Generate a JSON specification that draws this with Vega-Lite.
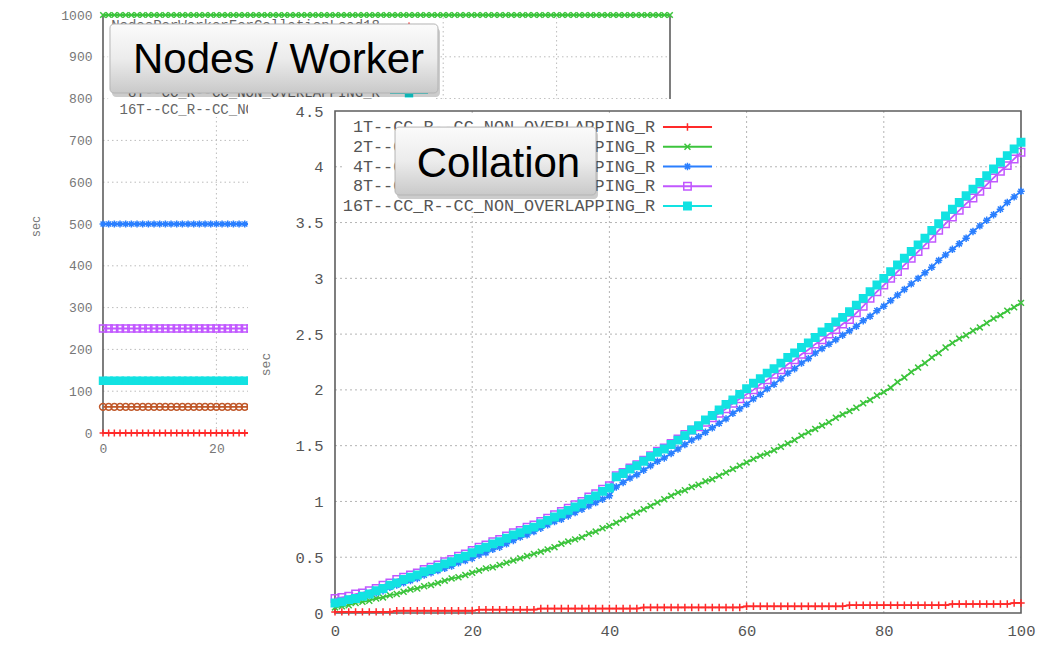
{
"$schema":"https://vega.github.io/schema/vega-lite/v6.json",
"width":1045,"height":649,"autosize":{"type":"none"},"padding":0,"background":"#ffffff",
"config":{"view":{"stroke":null}},
"datasets":{
"A":[
{"x":0,"s":"NPW","y":0},{"x":1,"s":"NPW","y":0},{"x":2,"s":"NPW","y":0},{"x":3,"s":"NPW","y":0},{"x":4,"s":"NPW","y":0},{"x":5,"s":"NPW","y":0},{"x":6,"s":"NPW","y":0},{"x":7,"s":"NPW","y":0},{"x":8,"s":"NPW","y":0},{"x":9,"s":"NPW","y":0},{"x":10,"s":"NPW","y":0},{"x":11,"s":"NPW","y":0},{"x":12,"s":"NPW","y":0},{"x":13,"s":"NPW","y":0},{"x":14,"s":"NPW","y":0},{"x":15,"s":"NPW","y":0},{"x":16,"s":"NPW","y":0},{"x":17,"s":"NPW","y":0},{"x":18,"s":"NPW","y":0},{"x":19,"s":"NPW","y":0},{"x":20,"s":"NPW","y":0},{"x":21,"s":"NPW","y":0},{"x":22,"s":"NPW","y":0},{"x":23,"s":"NPW","y":0},{"x":24,"s":"NPW","y":0},{"x":25,"s":"NPW","y":0},{"x":26,"s":"NPW","y":0},{"x":27,"s":"NPW","y":0},{"x":28,"s":"NPW","y":0},{"x":29,"s":"NPW","y":0},{"x":30,"s":"NPW","y":0},{"x":31,"s":"NPW","y":0},{"x":32,"s":"NPW","y":0},{"x":33,"s":"NPW","y":0},{"x":34,"s":"NPW","y":0},{"x":35,"s":"NPW","y":0},{"x":36,"s":"NPW","y":0},{"x":37,"s":"NPW","y":0},{"x":38,"s":"NPW","y":0},{"x":39,"s":"NPW","y":0},{"x":40,"s":"NPW","y":0},{"x":41,"s":"NPW","y":0},{"x":42,"s":"NPW","y":0},{"x":43,"s":"NPW","y":0},{"x":44,"s":"NPW","y":0},{"x":45,"s":"NPW","y":0},{"x":46,"s":"NPW","y":0},{"x":47,"s":"NPW","y":0},{"x":48,"s":"NPW","y":0},{"x":49,"s":"NPW","y":0},{"x":50,"s":"NPW","y":0},{"x":51,"s":"NPW","y":0},{"x":52,"s":"NPW","y":0},{"x":53,"s":"NPW","y":0},{"x":54,"s":"NPW","y":0},{"x":55,"s":"NPW","y":0},{"x":56,"s":"NPW","y":0},{"x":57,"s":"NPW","y":0},{"x":58,"s":"NPW","y":0},{"x":59,"s":"NPW","y":0},{"x":60,"s":"NPW","y":0},{"x":61,"s":"NPW","y":0},{"x":62,"s":"NPW","y":0},{"x":63,"s":"NPW","y":0},{"x":64,"s":"NPW","y":0},{"x":65,"s":"NPW","y":0},{"x":66,"s":"NPW","y":0},{"x":67,"s":"NPW","y":0},{"x":68,"s":"NPW","y":0},{"x":69,"s":"NPW","y":0},{"x":70,"s":"NPW","y":0},{"x":71,"s":"NPW","y":0},{"x":72,"s":"NPW","y":0},{"x":73,"s":"NPW","y":0},{"x":74,"s":"NPW","y":0},{"x":75,"s":"NPW","y":0},{"x":76,"s":"NPW","y":0},{"x":77,"s":"NPW","y":0},{"x":78,"s":"NPW","y":0},{"x":79,"s":"NPW","y":0},{"x":80,"s":"NPW","y":0},{"x":81,"s":"NPW","y":0},{"x":82,"s":"NPW","y":0},{"x":83,"s":"NPW","y":0},{"x":84,"s":"NPW","y":0},{"x":85,"s":"NPW","y":0},{"x":86,"s":"NPW","y":0},{"x":87,"s":"NPW","y":0},{"x":88,"s":"NPW","y":0},{"x":89,"s":"NPW","y":0},{"x":90,"s":"NPW","y":0},{"x":91,"s":"NPW","y":0},{"x":92,"s":"NPW","y":0},{"x":93,"s":"NPW","y":0},{"x":94,"s":"NPW","y":0},{"x":95,"s":"NPW","y":0},{"x":96,"s":"NPW","y":0},{"x":97,"s":"NPW","y":0},{"x":98,"s":"NPW","y":0},{"x":99,"s":"NPW","y":0},{"x":100,"s":"NPW","y":0},
{"x":0,"s":"1T","y":1000},{"x":1,"s":"1T","y":1000},{"x":2,"s":"1T","y":1000},{"x":3,"s":"1T","y":1000},{"x":4,"s":"1T","y":1000},{"x":5,"s":"1T","y":1000},{"x":6,"s":"1T","y":1000},{"x":7,"s":"1T","y":1000},{"x":8,"s":"1T","y":1000},{"x":9,"s":"1T","y":1000},{"x":10,"s":"1T","y":1000},{"x":11,"s":"1T","y":1000},{"x":12,"s":"1T","y":1000},{"x":13,"s":"1T","y":1000},{"x":14,"s":"1T","y":1000},{"x":15,"s":"1T","y":1000},{"x":16,"s":"1T","y":1000},{"x":17,"s":"1T","y":1000},{"x":18,"s":"1T","y":1000},{"x":19,"s":"1T","y":1000},{"x":20,"s":"1T","y":1000},{"x":21,"s":"1T","y":1000},{"x":22,"s":"1T","y":1000},{"x":23,"s":"1T","y":1000},{"x":24,"s":"1T","y":1000},{"x":25,"s":"1T","y":1000},{"x":26,"s":"1T","y":1000},{"x":27,"s":"1T","y":1000},{"x":28,"s":"1T","y":1000},{"x":29,"s":"1T","y":1000},{"x":30,"s":"1T","y":1000},{"x":31,"s":"1T","y":1000},{"x":32,"s":"1T","y":1000},{"x":33,"s":"1T","y":1000},{"x":34,"s":"1T","y":1000},{"x":35,"s":"1T","y":1000},{"x":36,"s":"1T","y":1000},{"x":37,"s":"1T","y":1000},{"x":38,"s":"1T","y":1000},{"x":39,"s":"1T","y":1000},{"x":40,"s":"1T","y":1000},{"x":41,"s":"1T","y":1000},{"x":42,"s":"1T","y":1000},{"x":43,"s":"1T","y":1000},{"x":44,"s":"1T","y":1000},{"x":45,"s":"1T","y":1000},{"x":46,"s":"1T","y":1000},{"x":47,"s":"1T","y":1000},{"x":48,"s":"1T","y":1000},{"x":49,"s":"1T","y":1000},{"x":50,"s":"1T","y":1000},{"x":51,"s":"1T","y":1000},{"x":52,"s":"1T","y":1000},{"x":53,"s":"1T","y":1000},{"x":54,"s":"1T","y":1000},{"x":55,"s":"1T","y":1000},{"x":56,"s":"1T","y":1000},{"x":57,"s":"1T","y":1000},{"x":58,"s":"1T","y":1000},{"x":59,"s":"1T","y":1000},{"x":60,"s":"1T","y":1000},{"x":61,"s":"1T","y":1000},{"x":62,"s":"1T","y":1000},{"x":63,"s":"1T","y":1000},{"x":64,"s":"1T","y":1000},{"x":65,"s":"1T","y":1000},{"x":66,"s":"1T","y":1000},{"x":67,"s":"1T","y":1000},{"x":68,"s":"1T","y":1000},{"x":69,"s":"1T","y":1000},{"x":70,"s":"1T","y":1000},{"x":71,"s":"1T","y":1000},{"x":72,"s":"1T","y":1000},{"x":73,"s":"1T","y":1000},{"x":74,"s":"1T","y":1000},{"x":75,"s":"1T","y":1000},{"x":76,"s":"1T","y":1000},{"x":77,"s":"1T","y":1000},{"x":78,"s":"1T","y":1000},{"x":79,"s":"1T","y":1000},{"x":80,"s":"1T","y":1000},{"x":81,"s":"1T","y":1000},{"x":82,"s":"1T","y":1000},{"x":83,"s":"1T","y":1000},{"x":84,"s":"1T","y":1000},{"x":85,"s":"1T","y":1000},{"x":86,"s":"1T","y":1000},{"x":87,"s":"1T","y":1000},{"x":88,"s":"1T","y":1000},{"x":89,"s":"1T","y":1000},{"x":90,"s":"1T","y":1000},{"x":91,"s":"1T","y":1000},{"x":92,"s":"1T","y":1000},{"x":93,"s":"1T","y":1000},{"x":94,"s":"1T","y":1000},{"x":95,"s":"1T","y":1000},{"x":96,"s":"1T","y":1000},{"x":97,"s":"1T","y":1000},{"x":98,"s":"1T","y":1000},{"x":99,"s":"1T","y":1000},{"x":100,"s":"1T","y":1000},
{"x":0,"s":"2T","y":500},{"x":1,"s":"2T","y":500},{"x":2,"s":"2T","y":500},{"x":3,"s":"2T","y":500},{"x":4,"s":"2T","y":500},{"x":5,"s":"2T","y":500},{"x":6,"s":"2T","y":500},{"x":7,"s":"2T","y":500},{"x":8,"s":"2T","y":500},{"x":9,"s":"2T","y":500},{"x":10,"s":"2T","y":500},{"x":11,"s":"2T","y":500},{"x":12,"s":"2T","y":500},{"x":13,"s":"2T","y":500},{"x":14,"s":"2T","y":500},{"x":15,"s":"2T","y":500},{"x":16,"s":"2T","y":500},{"x":17,"s":"2T","y":500},{"x":18,"s":"2T","y":500},{"x":19,"s":"2T","y":500},{"x":20,"s":"2T","y":500},{"x":21,"s":"2T","y":500},{"x":22,"s":"2T","y":500},{"x":23,"s":"2T","y":500},{"x":24,"s":"2T","y":500},{"x":25,"s":"2T","y":500},{"x":26,"s":"2T","y":500},{"x":27,"s":"2T","y":500},{"x":28,"s":"2T","y":500},{"x":29,"s":"2T","y":500},{"x":30,"s":"2T","y":500},{"x":31,"s":"2T","y":500},{"x":32,"s":"2T","y":500},{"x":33,"s":"2T","y":500},{"x":34,"s":"2T","y":500},{"x":35,"s":"2T","y":500},{"x":36,"s":"2T","y":500},{"x":37,"s":"2T","y":500},{"x":38,"s":"2T","y":500},{"x":39,"s":"2T","y":500},{"x":40,"s":"2T","y":500},{"x":41,"s":"2T","y":500},{"x":42,"s":"2T","y":500},{"x":43,"s":"2T","y":500},{"x":44,"s":"2T","y":500},{"x":45,"s":"2T","y":500},{"x":46,"s":"2T","y":500},{"x":47,"s":"2T","y":500},{"x":48,"s":"2T","y":500},{"x":49,"s":"2T","y":500},{"x":50,"s":"2T","y":500},{"x":51,"s":"2T","y":500},{"x":52,"s":"2T","y":500},{"x":53,"s":"2T","y":500},{"x":54,"s":"2T","y":500},{"x":55,"s":"2T","y":500},{"x":56,"s":"2T","y":500},{"x":57,"s":"2T","y":500},{"x":58,"s":"2T","y":500},{"x":59,"s":"2T","y":500},{"x":60,"s":"2T","y":500},{"x":61,"s":"2T","y":500},{"x":62,"s":"2T","y":500},{"x":63,"s":"2T","y":500},{"x":64,"s":"2T","y":500},{"x":65,"s":"2T","y":500},{"x":66,"s":"2T","y":500},{"x":67,"s":"2T","y":500},{"x":68,"s":"2T","y":500},{"x":69,"s":"2T","y":500},{"x":70,"s":"2T","y":500},{"x":71,"s":"2T","y":500},{"x":72,"s":"2T","y":500},{"x":73,"s":"2T","y":500},{"x":74,"s":"2T","y":500},{"x":75,"s":"2T","y":500},{"x":76,"s":"2T","y":500},{"x":77,"s":"2T","y":500},{"x":78,"s":"2T","y":500},{"x":79,"s":"2T","y":500},{"x":80,"s":"2T","y":500},{"x":81,"s":"2T","y":500},{"x":82,"s":"2T","y":500},{"x":83,"s":"2T","y":500},{"x":84,"s":"2T","y":500},{"x":85,"s":"2T","y":500},{"x":86,"s":"2T","y":500},{"x":87,"s":"2T","y":500},{"x":88,"s":"2T","y":500},{"x":89,"s":"2T","y":500},{"x":90,"s":"2T","y":500},{"x":91,"s":"2T","y":500},{"x":92,"s":"2T","y":500},{"x":93,"s":"2T","y":500},{"x":94,"s":"2T","y":500},{"x":95,"s":"2T","y":500},{"x":96,"s":"2T","y":500},{"x":97,"s":"2T","y":500},{"x":98,"s":"2T","y":500},{"x":99,"s":"2T","y":500},{"x":100,"s":"2T","y":500},
{"x":0,"s":"4T","y":250},{"x":1,"s":"4T","y":250},{"x":2,"s":"4T","y":250},{"x":3,"s":"4T","y":250},{"x":4,"s":"4T","y":250},{"x":5,"s":"4T","y":250},{"x":6,"s":"4T","y":250},{"x":7,"s":"4T","y":250},{"x":8,"s":"4T","y":250},{"x":9,"s":"4T","y":250},{"x":10,"s":"4T","y":250},{"x":11,"s":"4T","y":250},{"x":12,"s":"4T","y":250},{"x":13,"s":"4T","y":250},{"x":14,"s":"4T","y":250},{"x":15,"s":"4T","y":250},{"x":16,"s":"4T","y":250},{"x":17,"s":"4T","y":250},{"x":18,"s":"4T","y":250},{"x":19,"s":"4T","y":250},{"x":20,"s":"4T","y":250},{"x":21,"s":"4T","y":250},{"x":22,"s":"4T","y":250},{"x":23,"s":"4T","y":250},{"x":24,"s":"4T","y":250},{"x":25,"s":"4T","y":250},{"x":26,"s":"4T","y":250},{"x":27,"s":"4T","y":250},{"x":28,"s":"4T","y":250},{"x":29,"s":"4T","y":250},{"x":30,"s":"4T","y":250},{"x":31,"s":"4T","y":250},{"x":32,"s":"4T","y":250},{"x":33,"s":"4T","y":250},{"x":34,"s":"4T","y":250},{"x":35,"s":"4T","y":250},{"x":36,"s":"4T","y":250},{"x":37,"s":"4T","y":250},{"x":38,"s":"4T","y":250},{"x":39,"s":"4T","y":250},{"x":40,"s":"4T","y":250},{"x":41,"s":"4T","y":250},{"x":42,"s":"4T","y":250},{"x":43,"s":"4T","y":250},{"x":44,"s":"4T","y":250},{"x":45,"s":"4T","y":250},{"x":46,"s":"4T","y":250},{"x":47,"s":"4T","y":250},{"x":48,"s":"4T","y":250},{"x":49,"s":"4T","y":250},{"x":50,"s":"4T","y":250},{"x":51,"s":"4T","y":250},{"x":52,"s":"4T","y":250},{"x":53,"s":"4T","y":250},{"x":54,"s":"4T","y":250},{"x":55,"s":"4T","y":250},{"x":56,"s":"4T","y":250},{"x":57,"s":"4T","y":250},{"x":58,"s":"4T","y":250},{"x":59,"s":"4T","y":250},{"x":60,"s":"4T","y":250},{"x":61,"s":"4T","y":250},{"x":62,"s":"4T","y":250},{"x":63,"s":"4T","y":250},{"x":64,"s":"4T","y":250},{"x":65,"s":"4T","y":250},{"x":66,"s":"4T","y":250},{"x":67,"s":"4T","y":250},{"x":68,"s":"4T","y":250},{"x":69,"s":"4T","y":250},{"x":70,"s":"4T","y":250},{"x":71,"s":"4T","y":250},{"x":72,"s":"4T","y":250},{"x":73,"s":"4T","y":250},{"x":74,"s":"4T","y":250},{"x":75,"s":"4T","y":250},{"x":76,"s":"4T","y":250},{"x":77,"s":"4T","y":250},{"x":78,"s":"4T","y":250},{"x":79,"s":"4T","y":250},{"x":80,"s":"4T","y":250},{"x":81,"s":"4T","y":250},{"x":82,"s":"4T","y":250},{"x":83,"s":"4T","y":250},{"x":84,"s":"4T","y":250},{"x":85,"s":"4T","y":250},{"x":86,"s":"4T","y":250},{"x":87,"s":"4T","y":250},{"x":88,"s":"4T","y":250},{"x":89,"s":"4T","y":250},{"x":90,"s":"4T","y":250},{"x":91,"s":"4T","y":250},{"x":92,"s":"4T","y":250},{"x":93,"s":"4T","y":250},{"x":94,"s":"4T","y":250},{"x":95,"s":"4T","y":250},{"x":96,"s":"4T","y":250},{"x":97,"s":"4T","y":250},{"x":98,"s":"4T","y":250},{"x":99,"s":"4T","y":250},{"x":100,"s":"4T","y":250},
{"x":0,"s":"8T","y":125},{"x":1,"s":"8T","y":125},{"x":2,"s":"8T","y":125},{"x":3,"s":"8T","y":125},{"x":4,"s":"8T","y":125},{"x":5,"s":"8T","y":125},{"x":6,"s":"8T","y":125},{"x":7,"s":"8T","y":125},{"x":8,"s":"8T","y":125},{"x":9,"s":"8T","y":125},{"x":10,"s":"8T","y":125},{"x":11,"s":"8T","y":125},{"x":12,"s":"8T","y":125},{"x":13,"s":"8T","y":125},{"x":14,"s":"8T","y":125},{"x":15,"s":"8T","y":125},{"x":16,"s":"8T","y":125},{"x":17,"s":"8T","y":125},{"x":18,"s":"8T","y":125},{"x":19,"s":"8T","y":125},{"x":20,"s":"8T","y":125},{"x":21,"s":"8T","y":125},{"x":22,"s":"8T","y":125},{"x":23,"s":"8T","y":125},{"x":24,"s":"8T","y":125},{"x":25,"s":"8T","y":125},{"x":26,"s":"8T","y":125},{"x":27,"s":"8T","y":125},{"x":28,"s":"8T","y":125},{"x":29,"s":"8T","y":125},{"x":30,"s":"8T","y":125},{"x":31,"s":"8T","y":125},{"x":32,"s":"8T","y":125},{"x":33,"s":"8T","y":125},{"x":34,"s":"8T","y":125},{"x":35,"s":"8T","y":125},{"x":36,"s":"8T","y":125},{"x":37,"s":"8T","y":125},{"x":38,"s":"8T","y":125},{"x":39,"s":"8T","y":125},{"x":40,"s":"8T","y":125},{"x":41,"s":"8T","y":125},{"x":42,"s":"8T","y":125},{"x":43,"s":"8T","y":125},{"x":44,"s":"8T","y":125},{"x":45,"s":"8T","y":125},{"x":46,"s":"8T","y":125},{"x":47,"s":"8T","y":125},{"x":48,"s":"8T","y":125},{"x":49,"s":"8T","y":125},{"x":50,"s":"8T","y":125},{"x":51,"s":"8T","y":125},{"x":52,"s":"8T","y":125},{"x":53,"s":"8T","y":125},{"x":54,"s":"8T","y":125},{"x":55,"s":"8T","y":125},{"x":56,"s":"8T","y":125},{"x":57,"s":"8T","y":125},{"x":58,"s":"8T","y":125},{"x":59,"s":"8T","y":125},{"x":60,"s":"8T","y":125},{"x":61,"s":"8T","y":125},{"x":62,"s":"8T","y":125},{"x":63,"s":"8T","y":125},{"x":64,"s":"8T","y":125},{"x":65,"s":"8T","y":125},{"x":66,"s":"8T","y":125},{"x":67,"s":"8T","y":125},{"x":68,"s":"8T","y":125},{"x":69,"s":"8T","y":125},{"x":70,"s":"8T","y":125},{"x":71,"s":"8T","y":125},{"x":72,"s":"8T","y":125},{"x":73,"s":"8T","y":125},{"x":74,"s":"8T","y":125},{"x":75,"s":"8T","y":125},{"x":76,"s":"8T","y":125},{"x":77,"s":"8T","y":125},{"x":78,"s":"8T","y":125},{"x":79,"s":"8T","y":125},{"x":80,"s":"8T","y":125},{"x":81,"s":"8T","y":125},{"x":82,"s":"8T","y":125},{"x":83,"s":"8T","y":125},{"x":84,"s":"8T","y":125},{"x":85,"s":"8T","y":125},{"x":86,"s":"8T","y":125},{"x":87,"s":"8T","y":125},{"x":88,"s":"8T","y":125},{"x":89,"s":"8T","y":125},{"x":90,"s":"8T","y":125},{"x":91,"s":"8T","y":125},{"x":92,"s":"8T","y":125},{"x":93,"s":"8T","y":125},{"x":94,"s":"8T","y":125},{"x":95,"s":"8T","y":125},{"x":96,"s":"8T","y":125},{"x":97,"s":"8T","y":125},{"x":98,"s":"8T","y":125},{"x":99,"s":"8T","y":125},{"x":100,"s":"8T","y":125},
{"x":0,"s":"16T","y":62.5},{"x":1,"s":"16T","y":62.5},{"x":2,"s":"16T","y":62.5},{"x":3,"s":"16T","y":62.5},{"x":4,"s":"16T","y":62.5},{"x":5,"s":"16T","y":62.5},{"x":6,"s":"16T","y":62.5},{"x":7,"s":"16T","y":62.5},{"x":8,"s":"16T","y":62.5},{"x":9,"s":"16T","y":62.5},{"x":10,"s":"16T","y":62.5},{"x":11,"s":"16T","y":62.5},{"x":12,"s":"16T","y":62.5},{"x":13,"s":"16T","y":62.5},{"x":14,"s":"16T","y":62.5},{"x":15,"s":"16T","y":62.5},{"x":16,"s":"16T","y":62.5},{"x":17,"s":"16T","y":62.5},{"x":18,"s":"16T","y":62.5},{"x":19,"s":"16T","y":62.5},{"x":20,"s":"16T","y":62.5},{"x":21,"s":"16T","y":62.5},{"x":22,"s":"16T","y":62.5},{"x":23,"s":"16T","y":62.5},{"x":24,"s":"16T","y":62.5},{"x":25,"s":"16T","y":62.5},{"x":26,"s":"16T","y":62.5},{"x":27,"s":"16T","y":62.5},{"x":28,"s":"16T","y":62.5},{"x":29,"s":"16T","y":62.5},{"x":30,"s":"16T","y":62.5},{"x":31,"s":"16T","y":62.5},{"x":32,"s":"16T","y":62.5},{"x":33,"s":"16T","y":62.5},{"x":34,"s":"16T","y":62.5},{"x":35,"s":"16T","y":62.5},{"x":36,"s":"16T","y":62.5},{"x":37,"s":"16T","y":62.5},{"x":38,"s":"16T","y":62.5},{"x":39,"s":"16T","y":62.5},{"x":40,"s":"16T","y":62.5},{"x":41,"s":"16T","y":62.5},{"x":42,"s":"16T","y":62.5},{"x":43,"s":"16T","y":62.5},{"x":44,"s":"16T","y":62.5},{"x":45,"s":"16T","y":62.5},{"x":46,"s":"16T","y":62.5},{"x":47,"s":"16T","y":62.5},{"x":48,"s":"16T","y":62.5},{"x":49,"s":"16T","y":62.5},{"x":50,"s":"16T","y":62.5},{"x":51,"s":"16T","y":62.5},{"x":52,"s":"16T","y":62.5},{"x":53,"s":"16T","y":62.5},{"x":54,"s":"16T","y":62.5},{"x":55,"s":"16T","y":62.5},{"x":56,"s":"16T","y":62.5},{"x":57,"s":"16T","y":62.5},{"x":58,"s":"16T","y":62.5},{"x":59,"s":"16T","y":62.5},{"x":60,"s":"16T","y":62.5},{"x":61,"s":"16T","y":62.5},{"x":62,"s":"16T","y":62.5},{"x":63,"s":"16T","y":62.5},{"x":64,"s":"16T","y":62.5},{"x":65,"s":"16T","y":62.5},{"x":66,"s":"16T","y":62.5},{"x":67,"s":"16T","y":62.5},{"x":68,"s":"16T","y":62.5},{"x":69,"s":"16T","y":62.5},{"x":70,"s":"16T","y":62.5},{"x":71,"s":"16T","y":62.5},{"x":72,"s":"16T","y":62.5},{"x":73,"s":"16T","y":62.5},{"x":74,"s":"16T","y":62.5},{"x":75,"s":"16T","y":62.5},{"x":76,"s":"16T","y":62.5},{"x":77,"s":"16T","y":62.5},{"x":78,"s":"16T","y":62.5},{"x":79,"s":"16T","y":62.5},{"x":80,"s":"16T","y":62.5},{"x":81,"s":"16T","y":62.5},{"x":82,"s":"16T","y":62.5},{"x":83,"s":"16T","y":62.5},{"x":84,"s":"16T","y":62.5},{"x":85,"s":"16T","y":62.5},{"x":86,"s":"16T","y":62.5},{"x":87,"s":"16T","y":62.5},{"x":88,"s":"16T","y":62.5},{"x":89,"s":"16T","y":62.5},{"x":90,"s":"16T","y":62.5},{"x":91,"s":"16T","y":62.5},{"x":92,"s":"16T","y":62.5},{"x":93,"s":"16T","y":62.5},{"x":94,"s":"16T","y":62.5},{"x":95,"s":"16T","y":62.5},{"x":96,"s":"16T","y":62.5},{"x":97,"s":"16T","y":62.5},{"x":98,"s":"16T","y":62.5},{"x":99,"s":"16T","y":62.5},{"x":100,"s":"16T","y":62.5}
],
"B":[
{"x":0,"s":"1T","y":0.01},{"x":1,"s":"1T","y":0.01},{"x":2,"s":"1T","y":0.01},{"x":3,"s":"1T","y":0.01},{"x":4,"s":"1T","y":0.01},{"x":5,"s":"1T","y":0.01},{"x":6,"s":"1T","y":0.01},{"x":7,"s":"1T","y":0.01},{"x":8,"s":"1T","y":0.01},{"x":9,"s":"1T","y":0.02},{"x":10,"s":"1T","y":0.02},{"x":11,"s":"1T","y":0.02},{"x":12,"s":"1T","y":0.02},{"x":13,"s":"1T","y":0.02},{"x":14,"s":"1T","y":0.02},{"x":15,"s":"1T","y":0.02},{"x":16,"s":"1T","y":0.02},{"x":17,"s":"1T","y":0.02},{"x":18,"s":"1T","y":0.02},{"x":19,"s":"1T","y":0.02},{"x":20,"s":"1T","y":0.02},{"x":21,"s":"1T","y":0.03},{"x":22,"s":"1T","y":0.03},{"x":23,"s":"1T","y":0.03},{"x":24,"s":"1T","y":0.03},{"x":25,"s":"1T","y":0.03},{"x":26,"s":"1T","y":0.03},{"x":27,"s":"1T","y":0.03},{"x":28,"s":"1T","y":0.03},{"x":29,"s":"1T","y":0.03},{"x":30,"s":"1T","y":0.04},{"x":31,"s":"1T","y":0.04},{"x":32,"s":"1T","y":0.04},{"x":33,"s":"1T","y":0.04},{"x":34,"s":"1T","y":0.04},{"x":35,"s":"1T","y":0.04},{"x":36,"s":"1T","y":0.04},{"x":37,"s":"1T","y":0.04},{"x":38,"s":"1T","y":0.04},{"x":39,"s":"1T","y":0.04},{"x":40,"s":"1T","y":0.04},{"x":41,"s":"1T","y":0.04},{"x":42,"s":"1T","y":0.04},{"x":43,"s":"1T","y":0.04},{"x":44,"s":"1T","y":0.04},{"x":45,"s":"1T","y":0.05},{"x":46,"s":"1T","y":0.05},{"x":47,"s":"1T","y":0.05},{"x":48,"s":"1T","y":0.05},{"x":49,"s":"1T","y":0.05},{"x":50,"s":"1T","y":0.05},{"x":51,"s":"1T","y":0.05},{"x":52,"s":"1T","y":0.05},{"x":53,"s":"1T","y":0.05},{"x":54,"s":"1T","y":0.05},{"x":55,"s":"1T","y":0.05},{"x":56,"s":"1T","y":0.05},{"x":57,"s":"1T","y":0.05},{"x":58,"s":"1T","y":0.05},{"x":59,"s":"1T","y":0.05},{"x":60,"s":"1T","y":0.06},{"x":61,"s":"1T","y":0.06},{"x":62,"s":"1T","y":0.06},{"x":63,"s":"1T","y":0.06},{"x":64,"s":"1T","y":0.06},{"x":65,"s":"1T","y":0.06},{"x":66,"s":"1T","y":0.06},{"x":67,"s":"1T","y":0.06},{"x":68,"s":"1T","y":0.06},{"x":69,"s":"1T","y":0.06},{"x":70,"s":"1T","y":0.06},{"x":71,"s":"1T","y":0.06},{"x":72,"s":"1T","y":0.06},{"x":73,"s":"1T","y":0.06},{"x":74,"s":"1T","y":0.06},{"x":75,"s":"1T","y":0.07},{"x":76,"s":"1T","y":0.07},{"x":77,"s":"1T","y":0.07},{"x":78,"s":"1T","y":0.07},{"x":79,"s":"1T","y":0.07},{"x":80,"s":"1T","y":0.07},{"x":81,"s":"1T","y":0.07},{"x":82,"s":"1T","y":0.07},{"x":83,"s":"1T","y":0.07},{"x":84,"s":"1T","y":0.07},{"x":85,"s":"1T","y":0.07},{"x":86,"s":"1T","y":0.07},{"x":87,"s":"1T","y":0.07},{"x":88,"s":"1T","y":0.07},{"x":89,"s":"1T","y":0.07},{"x":90,"s":"1T","y":0.08},{"x":91,"s":"1T","y":0.08},{"x":92,"s":"1T","y":0.08},{"x":93,"s":"1T","y":0.08},{"x":94,"s":"1T","y":0.08},{"x":95,"s":"1T","y":0.08},{"x":96,"s":"1T","y":0.08},{"x":97,"s":"1T","y":0.08},{"x":98,"s":"1T","y":0.08},{"x":99,"s":"1T","y":0.09},{"x":100,"s":"1T","y":0.09},
{"x":0,"s":"2T","y":0.05},{"x":1,"s":"2T","y":0.06},{"x":2,"s":"2T","y":0.07},{"x":3,"s":"2T","y":0.09},{"x":4,"s":"2T","y":0.1},{"x":5,"s":"2T","y":0.11},{"x":6,"s":"2T","y":0.13},{"x":7,"s":"2T","y":0.14},{"x":8,"s":"2T","y":0.16},{"x":9,"s":"2T","y":0.17},{"x":10,"s":"2T","y":0.19},{"x":11,"s":"2T","y":0.21},{"x":12,"s":"2T","y":0.22},{"x":13,"s":"2T","y":0.24},{"x":14,"s":"2T","y":0.25},{"x":15,"s":"2T","y":0.27},{"x":16,"s":"2T","y":0.29},{"x":17,"s":"2T","y":0.31},{"x":18,"s":"2T","y":0.32},{"x":19,"s":"2T","y":0.34},{"x":20,"s":"2T","y":0.36},{"x":21,"s":"2T","y":0.38},{"x":22,"s":"2T","y":0.4},{"x":23,"s":"2T","y":0.41},{"x":24,"s":"2T","y":0.43},{"x":25,"s":"2T","y":0.45},{"x":26,"s":"2T","y":0.47},{"x":27,"s":"2T","y":0.49},{"x":28,"s":"2T","y":0.51},{"x":29,"s":"2T","y":0.53},{"x":30,"s":"2T","y":0.55},{"x":31,"s":"2T","y":0.57},{"x":32,"s":"2T","y":0.59},{"x":33,"s":"2T","y":0.62},{"x":34,"s":"2T","y":0.64},{"x":35,"s":"2T","y":0.66},{"x":36,"s":"2T","y":0.68},{"x":37,"s":"2T","y":0.71},{"x":38,"s":"2T","y":0.73},{"x":39,"s":"2T","y":0.76},{"x":40,"s":"2T","y":0.78},{"x":41,"s":"2T","y":0.81},{"x":42,"s":"2T","y":0.84},{"x":43,"s":"2T","y":0.87},{"x":44,"s":"2T","y":0.9},{"x":45,"s":"2T","y":0.93},{"x":46,"s":"2T","y":0.96},{"x":47,"s":"2T","y":0.99},{"x":48,"s":"2T","y":1.02},{"x":49,"s":"2T","y":1.05},{"x":50,"s":"2T","y":1.08},{"x":51,"s":"2T","y":1.1},{"x":52,"s":"2T","y":1.13},{"x":53,"s":"2T","y":1.15},{"x":54,"s":"2T","y":1.18},{"x":55,"s":"2T","y":1.2},{"x":56,"s":"2T","y":1.23},{"x":57,"s":"2T","y":1.26},{"x":58,"s":"2T","y":1.29},{"x":59,"s":"2T","y":1.32},{"x":60,"s":"2T","y":1.35},{"x":61,"s":"2T","y":1.38},{"x":62,"s":"2T","y":1.41},{"x":63,"s":"2T","y":1.43},{"x":64,"s":"2T","y":1.46},{"x":65,"s":"2T","y":1.49},{"x":66,"s":"2T","y":1.52},{"x":67,"s":"2T","y":1.55},{"x":68,"s":"2T","y":1.59},{"x":69,"s":"2T","y":1.62},{"x":70,"s":"2T","y":1.65},{"x":71,"s":"2T","y":1.68},{"x":72,"s":"2T","y":1.71},{"x":73,"s":"2T","y":1.75},{"x":74,"s":"2T","y":1.78},{"x":75,"s":"2T","y":1.81},{"x":76,"s":"2T","y":1.84},{"x":77,"s":"2T","y":1.88},{"x":78,"s":"2T","y":1.91},{"x":79,"s":"2T","y":1.95},{"x":80,"s":"2T","y":1.98},{"x":81,"s":"2T","y":2.02},{"x":82,"s":"2T","y":2.07},{"x":83,"s":"2T","y":2.11},{"x":84,"s":"2T","y":2.16},{"x":85,"s":"2T","y":2.2},{"x":86,"s":"2T","y":2.24},{"x":87,"s":"2T","y":2.29},{"x":88,"s":"2T","y":2.33},{"x":89,"s":"2T","y":2.38},{"x":90,"s":"2T","y":2.42},{"x":91,"s":"2T","y":2.46},{"x":92,"s":"2T","y":2.49},{"x":93,"s":"2T","y":2.53},{"x":94,"s":"2T","y":2.56},{"x":95,"s":"2T","y":2.6},{"x":96,"s":"2T","y":2.64},{"x":97,"s":"2T","y":2.67},{"x":98,"s":"2T","y":2.71},{"x":99,"s":"2T","y":2.74},{"x":100,"s":"2T","y":2.78},
{"x":0,"s":"4T","y":0.09},{"x":1,"s":"4T","y":0.1},{"x":2,"s":"4T","y":0.12},{"x":3,"s":"4T","y":0.13},{"x":4,"s":"4T","y":0.15},{"x":5,"s":"4T","y":0.16},{"x":6,"s":"4T","y":0.18},{"x":7,"s":"4T","y":0.2},{"x":8,"s":"4T","y":0.23},{"x":9,"s":"4T","y":0.25},{"x":10,"s":"4T","y":0.27},{"x":11,"s":"4T","y":0.29},{"x":12,"s":"4T","y":0.31},{"x":13,"s":"4T","y":0.34},{"x":14,"s":"4T","y":0.36},{"x":15,"s":"4T","y":0.38},{"x":16,"s":"4T","y":0.4},{"x":17,"s":"4T","y":0.42},{"x":18,"s":"4T","y":0.45},{"x":19,"s":"4T","y":0.47},{"x":20,"s":"4T","y":0.49},{"x":21,"s":"4T","y":0.52},{"x":22,"s":"4T","y":0.54},{"x":23,"s":"4T","y":0.57},{"x":24,"s":"4T","y":0.59},{"x":25,"s":"4T","y":0.62},{"x":26,"s":"4T","y":0.65},{"x":27,"s":"4T","y":0.68},{"x":28,"s":"4T","y":0.7},{"x":29,"s":"4T","y":0.73},{"x":30,"s":"4T","y":0.76},{"x":31,"s":"4T","y":0.79},{"x":32,"s":"4T","y":0.82},{"x":33,"s":"4T","y":0.84},{"x":34,"s":"4T","y":0.87},{"x":35,"s":"4T","y":0.9},{"x":36,"s":"4T","y":0.93},{"x":37,"s":"4T","y":0.96},{"x":38,"s":"4T","y":0.99},{"x":39,"s":"4T","y":1.02},{"x":40,"s":"4T","y":1.05},{"x":41,"s":"4T","y":1.13},{"x":42,"s":"4T","y":1.17},{"x":43,"s":"4T","y":1.21},{"x":44,"s":"4T","y":1.24},{"x":45,"s":"4T","y":1.28},{"x":46,"s":"4T","y":1.32},{"x":47,"s":"4T","y":1.36},{"x":48,"s":"4T","y":1.39},{"x":49,"s":"4T","y":1.43},{"x":50,"s":"4T","y":1.47},{"x":51,"s":"4T","y":1.51},{"x":52,"s":"4T","y":1.55},{"x":53,"s":"4T","y":1.58},{"x":54,"s":"4T","y":1.62},{"x":55,"s":"4T","y":1.66},{"x":56,"s":"4T","y":1.7},{"x":57,"s":"4T","y":1.74},{"x":58,"s":"4T","y":1.79},{"x":59,"s":"4T","y":1.83},{"x":60,"s":"4T","y":1.87},{"x":61,"s":"4T","y":1.92},{"x":62,"s":"4T","y":1.96},{"x":63,"s":"4T","y":2.01},{"x":64,"s":"4T","y":2.05},{"x":65,"s":"4T","y":2.1},{"x":66,"s":"4T","y":2.15},{"x":67,"s":"4T","y":2.19},{"x":68,"s":"4T","y":2.24},{"x":69,"s":"4T","y":2.28},{"x":70,"s":"4T","y":2.33},{"x":71,"s":"4T","y":2.37},{"x":72,"s":"4T","y":2.41},{"x":73,"s":"4T","y":2.45},{"x":74,"s":"4T","y":2.49},{"x":75,"s":"4T","y":2.53},{"x":76,"s":"4T","y":2.57},{"x":77,"s":"4T","y":2.62},{"x":78,"s":"4T","y":2.66},{"x":79,"s":"4T","y":2.71},{"x":80,"s":"4T","y":2.75},{"x":81,"s":"4T","y":2.8},{"x":82,"s":"4T","y":2.85},{"x":83,"s":"4T","y":2.9},{"x":84,"s":"4T","y":2.95},{"x":85,"s":"4T","y":3.0},{"x":86,"s":"4T","y":3.05},{"x":87,"s":"4T","y":3.1},{"x":88,"s":"4T","y":3.16},{"x":89,"s":"4T","y":3.21},{"x":90,"s":"4T","y":3.26},{"x":91,"s":"4T","y":3.31},{"x":92,"s":"4T","y":3.36},{"x":93,"s":"4T","y":3.42},{"x":94,"s":"4T","y":3.47},{"x":95,"s":"4T","y":3.52},{"x":96,"s":"4T","y":3.57},{"x":97,"s":"4T","y":3.62},{"x":98,"s":"4T","y":3.68},{"x":99,"s":"4T","y":3.73},{"x":100,"s":"4T","y":3.78},
{"x":0,"s":"8T","y":0.13},{"x":1,"s":"8T","y":0.14},{"x":2,"s":"8T","y":0.15},{"x":3,"s":"8T","y":0.17},{"x":4,"s":"8T","y":0.18},{"x":5,"s":"8T","y":0.2},{"x":6,"s":"8T","y":0.22},{"x":7,"s":"8T","y":0.25},{"x":8,"s":"8T","y":0.27},{"x":9,"s":"8T","y":0.3},{"x":10,"s":"8T","y":0.32},{"x":11,"s":"8T","y":0.34},{"x":12,"s":"8T","y":0.36},{"x":13,"s":"8T","y":0.39},{"x":14,"s":"8T","y":0.41},{"x":15,"s":"8T","y":0.43},{"x":16,"s":"8T","y":0.46},{"x":17,"s":"8T","y":0.48},{"x":18,"s":"8T","y":0.51},{"x":19,"s":"8T","y":0.53},{"x":20,"s":"8T","y":0.56},{"x":21,"s":"8T","y":0.59},{"x":22,"s":"8T","y":0.61},{"x":23,"s":"8T","y":0.64},{"x":24,"s":"8T","y":0.66},{"x":25,"s":"8T","y":0.69},{"x":26,"s":"8T","y":0.72},{"x":27,"s":"8T","y":0.74},{"x":28,"s":"8T","y":0.77},{"x":29,"s":"8T","y":0.79},{"x":30,"s":"8T","y":0.82},{"x":31,"s":"8T","y":0.85},{"x":32,"s":"8T","y":0.88},{"x":33,"s":"8T","y":0.91},{"x":34,"s":"8T","y":0.94},{"x":35,"s":"8T","y":0.97},{"x":36,"s":"8T","y":1.0},{"x":37,"s":"8T","y":1.04},{"x":38,"s":"8T","y":1.07},{"x":39,"s":"8T","y":1.11},{"x":40,"s":"8T","y":1.14},{"x":41,"s":"8T","y":1.23},{"x":42,"s":"8T","y":1.26},{"x":43,"s":"8T","y":1.3},{"x":44,"s":"8T","y":1.33},{"x":45,"s":"8T","y":1.37},{"x":46,"s":"8T","y":1.41},{"x":47,"s":"8T","y":1.45},{"x":48,"s":"8T","y":1.48},{"x":49,"s":"8T","y":1.52},{"x":50,"s":"8T","y":1.56},{"x":51,"s":"8T","y":1.6},{"x":52,"s":"8T","y":1.64},{"x":53,"s":"8T","y":1.67},{"x":54,"s":"8T","y":1.71},{"x":55,"s":"8T","y":1.75},{"x":56,"s":"8T","y":1.79},{"x":57,"s":"8T","y":1.83},{"x":58,"s":"8T","y":1.88},{"x":59,"s":"8T","y":1.92},{"x":60,"s":"8T","y":1.96},{"x":61,"s":"8T","y":2.0},{"x":62,"s":"8T","y":2.05},{"x":63,"s":"8T","y":2.09},{"x":64,"s":"8T","y":2.14},{"x":65,"s":"8T","y":2.18},{"x":66,"s":"8T","y":2.23},{"x":67,"s":"8T","y":2.27},{"x":68,"s":"8T","y":2.32},{"x":69,"s":"8T","y":2.36},{"x":70,"s":"8T","y":2.41},{"x":71,"s":"8T","y":2.45},{"x":72,"s":"8T","y":2.5},{"x":73,"s":"8T","y":2.54},{"x":74,"s":"8T","y":2.59},{"x":75,"s":"8T","y":2.63},{"x":76,"s":"8T","y":2.69},{"x":77,"s":"8T","y":2.75},{"x":78,"s":"8T","y":2.82},{"x":79,"s":"8T","y":2.88},{"x":80,"s":"8T","y":2.94},{"x":81,"s":"8T","y":3.0},{"x":82,"s":"8T","y":3.06},{"x":83,"s":"8T","y":3.12},{"x":84,"s":"8T","y":3.18},{"x":85,"s":"8T","y":3.24},{"x":86,"s":"8T","y":3.3},{"x":87,"s":"8T","y":3.36},{"x":88,"s":"8T","y":3.43},{"x":89,"s":"8T","y":3.49},{"x":90,"s":"8T","y":3.55},{"x":91,"s":"8T","y":3.61},{"x":92,"s":"8T","y":3.67},{"x":93,"s":"8T","y":3.72},{"x":94,"s":"8T","y":3.78},{"x":95,"s":"8T","y":3.84},{"x":96,"s":"8T","y":3.9},{"x":97,"s":"8T","y":3.96},{"x":98,"s":"8T","y":4.01},{"x":99,"s":"8T","y":4.07},{"x":100,"s":"8T","y":4.13},
{"x":0,"s":"16T","y":0.09},{"x":1,"s":"16T","y":0.1},{"x":2,"s":"16T","y":0.12},{"x":3,"s":"16T","y":0.13},{"x":4,"s":"16T","y":0.15},{"x":5,"s":"16T","y":0.17},{"x":6,"s":"16T","y":0.2},{"x":7,"s":"16T","y":0.22},{"x":8,"s":"16T","y":0.25},{"x":9,"s":"16T","y":0.27},{"x":10,"s":"16T","y":0.3},{"x":11,"s":"16T","y":0.32},{"x":12,"s":"16T","y":0.34},{"x":13,"s":"16T","y":0.37},{"x":14,"s":"16T","y":0.39},{"x":15,"s":"16T","y":0.41},{"x":16,"s":"16T","y":0.44},{"x":17,"s":"16T","y":0.46},{"x":18,"s":"16T","y":0.49},{"x":19,"s":"16T","y":0.51},{"x":20,"s":"16T","y":0.54},{"x":21,"s":"16T","y":0.57},{"x":22,"s":"16T","y":0.59},{"x":23,"s":"16T","y":0.62},{"x":24,"s":"16T","y":0.64},{"x":25,"s":"16T","y":0.67},{"x":26,"s":"16T","y":0.7},{"x":27,"s":"16T","y":0.72},{"x":28,"s":"16T","y":0.75},{"x":29,"s":"16T","y":0.77},{"x":30,"s":"16T","y":0.8},{"x":31,"s":"16T","y":0.83},{"x":32,"s":"16T","y":0.86},{"x":33,"s":"16T","y":0.89},{"x":34,"s":"16T","y":0.92},{"x":35,"s":"16T","y":0.95},{"x":36,"s":"16T","y":0.98},{"x":37,"s":"16T","y":1.02},{"x":38,"s":"16T","y":1.05},{"x":39,"s":"16T","y":1.09},{"x":40,"s":"16T","y":1.12},{"x":41,"s":"16T","y":1.22},{"x":42,"s":"16T","y":1.25},{"x":43,"s":"16T","y":1.29},{"x":44,"s":"16T","y":1.32},{"x":45,"s":"16T","y":1.36},{"x":46,"s":"16T","y":1.4},{"x":47,"s":"16T","y":1.44},{"x":48,"s":"16T","y":1.47},{"x":49,"s":"16T","y":1.51},{"x":50,"s":"16T","y":1.55},{"x":51,"s":"16T","y":1.59},{"x":52,"s":"16T","y":1.64},{"x":53,"s":"16T","y":1.68},{"x":54,"s":"16T","y":1.73},{"x":55,"s":"16T","y":1.77},{"x":56,"s":"16T","y":1.82},{"x":57,"s":"16T","y":1.87},{"x":58,"s":"16T","y":1.91},{"x":59,"s":"16T","y":1.96},{"x":60,"s":"16T","y":2.01},{"x":61,"s":"16T","y":2.06},{"x":62,"s":"16T","y":2.1},{"x":63,"s":"16T","y":2.15},{"x":64,"s":"16T","y":2.19},{"x":65,"s":"16T","y":2.24},{"x":66,"s":"16T","y":2.29},{"x":67,"s":"16T","y":2.33},{"x":68,"s":"16T","y":2.38},{"x":69,"s":"16T","y":2.42},{"x":70,"s":"16T","y":2.47},{"x":71,"s":"16T","y":2.52},{"x":72,"s":"16T","y":2.56},{"x":73,"s":"16T","y":2.61},{"x":74,"s":"16T","y":2.65},{"x":75,"s":"16T","y":2.7},{"x":76,"s":"16T","y":2.76},{"x":77,"s":"16T","y":2.82},{"x":78,"s":"16T","y":2.88},{"x":79,"s":"16T","y":2.94},{"x":80,"s":"16T","y":3.0},{"x":81,"s":"16T","y":3.06},{"x":82,"s":"16T","y":3.12},{"x":83,"s":"16T","y":3.18},{"x":84,"s":"16T","y":3.24},{"x":85,"s":"16T","y":3.3},{"x":86,"s":"16T","y":3.36},{"x":87,"s":"16T","y":3.43},{"x":88,"s":"16T","y":3.49},{"x":89,"s":"16T","y":3.56},{"x":90,"s":"16T","y":3.62},{"x":91,"s":"16T","y":3.68},{"x":92,"s":"16T","y":3.74},{"x":93,"s":"16T","y":3.8},{"x":94,"s":"16T","y":3.86},{"x":95,"s":"16T","y":3.92},{"x":96,"s":"16T","y":3.98},{"x":97,"s":"16T","y":4.04},{"x":98,"s":"16T","y":4.1},{"x":99,"s":"16T","y":4.16},{"x":100,"s":"16T","y":4.22}
],
"LA":[{"s":"NPW","t":"NodesPerWorkerForCollationLoad18"},{"s":"1T","t":"1T--CC_R--CC_NON_OVERLAPPING_R"},{"s":"2T","t":"2T--CC_R--CC_NON_OVERLAPPING_R"},{"s":"4T","t":"4T--CC_R--CC_NON_OVERLAPPING_R"},{"s":"8T","t":"8T--CC_R--CC_NON_OVERLAPPING_R"},{"s":"16T","t":"16T--CC_R--CC_NON_OVERLAPPING_R"}],
"LB":[{"s":"1T","t":"1T--CC_R--CC_NON_OVERLAPPING_R"},{"s":"2T","t":"2T--CC_R--CC_NON_OVERLAPPING_R"},{"s":"4T","t":"4T--CC_R--CC_NON_OVERLAPPING_R"},{"s":"8T","t":"8T--CC_R--CC_NON_OVERLAPPING_R"},{"s":"16T","t":"16T--CC_R--CC_NON_OVERLAPPING_R"}]
},
"resolve":{"scale":{"x":"independent","y":"independent","stroke":"independent","fill":"independent","shape":"independent"}},
"layer":[
{"data":{"values":[{"v":100},{"v":200},{"v":300},{"v":400},{"v":500},{"v":600},{"v":700},{"v":800},{"v":900}]},
 "mark":{"type":"rule","color":"#bcbcbc","strokeDash":[1.5,3],"strokeWidth":1},
 "encoding":{
  "y":{"field":"v","type":"quantitative","scale":{"domain":[0,1000],"range":[433,15],"nice":false},
   "axis":{"orient":"left","offset":-103,"values":[0,100,200,300,400,500,600,700,800,900,1000],"format":"d","domain":false,"ticks":false,"grid":false,"labelFlush":false,"labelFont":"Liberation Mono","labelFontSize":13,"labelColor":"#777","labelPadding":11,"title":"sec","titleFont":"Liberation Mono","titleFontSize":12,"titleFontWeight":"normal","titleColor":"#777","titleX":-68,"titleY":226,"titleAngle":-90,"titleAlign":"center","titleBaseline":"middle","zindex":0}},
  "x":{"datum":0,"type":"quantitative","scale":{"domain":[0,100],"range":[103,670],"nice":false},"axis":null},
  "x2":{"datum":100}}},
{"data":{"values":[{"v":20},{"v":40},{"v":60},{"v":80}]},
 "mark":{"type":"rule","color":"#bcbcbc","strokeDash":[1.5,3],"strokeWidth":1},
 "encoding":{
  "x":{"field":"v","type":"quantitative","scale":{"domain":[0,100],"range":[103,670],"nice":false},
   "axis":{"orient":"bottom","offset":-216,"values":[0,20,40,60,80,100],"format":"d","domain":false,"ticks":false,"grid":false,"labelFlush":false,"labelFont":"Liberation Mono","labelFontSize":13,"labelColor":"#777","labelPadding":9,"title":null,"zindex":0}},
  "y":{"datum":0,"type":"quantitative","scale":{"domain":[0,1000],"range":[433,15],"nice":false},"axis":null},
  "y2":{"datum":1000}}},
{"data":{"values":[{}]},
 "mark":{"type":"rect","fillOpacity":0,"stroke":"#5e5e5e","strokeWidth":1.6},
 "encoding":{
  "x":{"datum":0,"type":"quantitative","scale":{"domain":[0,100],"range":[103,670],"nice":false},"axis":null},"x2":{"datum":100},
  "y":{"datum":0,"type":"quantitative","scale":{"domain":[0,1000],"range":[433,15],"nice":false},"axis":null},"y2":{"datum":1000}}},
{"data":{"name":"A"},
 "mark":{"type":"line","strokeWidth":1.8},
 "encoding":{
  "x":{"field":"x","type":"quantitative","scale":{"domain":[0,100],"range":[103,670],"nice":false},"axis":null},
  "y":{"field":"y","type":"quantitative","scale":{"domain":[0,1000],"range":[433,15],"nice":false},"axis":null},
  "stroke":{"field":"s","type":"nominal","scale":{"domain":["NPW","1T","2T","4T","8T","16T"],"range":["#ff2a2a","#3cc43c","#2a7fff","#c157ff","#12e2e2","#c0582a"]},"legend":null}}},
{"data":{"name":"A"},
 "mark":{"type":"point","strokeWidth":1.5,"size":48,"opacity":1},
 "encoding":{
  "x":{"field":"x","type":"quantitative","scale":{"domain":[0,100],"range":[103,670],"nice":false},"axis":null},
  "y":{"field":"y","type":"quantitative","scale":{"domain":[0,1000],"range":[433,15],"nice":false},"axis":null},
  "stroke":{"field":"s","type":"nominal","scale":{"domain":["NPW","1T","2T","4T","8T","16T"],"range":["#ff2a2a","#3cc43c","#2a7fff","#c157ff","#12e2e2","#c0582a"]},"legend":null},
  "fill":{"field":"s","type":"nominal","scale":{"domain":["NPW","1T","2T","4T","8T","16T"],"range":["transparent","transparent","transparent","transparent","#12e2e2","transparent"]},"legend":null},
  "shape":{"field":"s","type":"nominal","scale":{"domain":["NPW","1T","2T","4T","8T","16T"],"range":["M-1,0H1M0,-1V1","M-0.8,-0.8L0.8,0.8M-0.8,0.8L0.8,-0.8","M-1,0H1M0,-1V1M-0.7,-0.7L0.7,0.7M-0.7,0.7L0.7,-0.7","square","square","circle"]},"legend":null}}},
{"data":{"values":[{}]},
 "mark":{"type":"rect","fill":"#ffffff"},
 "encoding":{
  "x":{"datum":0.9,"type":"quantitative","scale":{"domain":[0,100],"range":[103,670],"nice":false},"axis":null},"x2":{"datum":58.7},
  "y":{"datum":756,"type":"quantitative","scale":{"domain":[0,1000],"range":[433,15],"nice":false},"axis":null},"y2":{"datum":993}}},
{"data":{"name":"LA"},
 "mark":{"type":"text","align":"right","baseline":"middle","font":"Liberation Mono","fontSize":14,"color":"#666"},
 "encoding":{
  "x":{"datum":48.85,"type":"quantitative","scale":{"domain":[0,100],"range":[103,670],"nice":false},"axis":null},
  "y":{"field":"s","type":"nominal","scale":{"type":"point","domain":["NPW","1T","2T","4T","8T","16T"],"range":[26,110],"padding":0},"axis":null},
  "text":{"field":"t"}}},
{"data":{"name":"LA"},
 "mark":{"type":"rule","strokeWidth":1.8},
 "encoding":{
  "x":{"datum":50.62,"type":"quantitative","scale":{"domain":[0,100],"range":[103,670],"nice":false},"axis":null},"x2":{"datum":57.32},
  "y":{"field":"s","type":"nominal","scale":{"type":"point","domain":["NPW","1T","2T","4T","8T","16T"],"range":[26,110],"padding":0},"axis":null},
  "stroke":{"field":"s","type":"nominal","scale":{"domain":["NPW","1T","2T","4T","8T","16T"],"range":["#ff2a2a","#3cc43c","#2a7fff","#c157ff","#12e2e2","#c0582a"]},"legend":null}}},
{"data":{"name":"LA"},
 "mark":{"type":"point","strokeWidth":1.5,"size":48,"opacity":1},
 "encoding":{
  "x":{"datum":53.97,"type":"quantitative","scale":{"domain":[0,100],"range":[103,670],"nice":false},"axis":null},
  "y":{"field":"s","type":"nominal","scale":{"type":"point","domain":["NPW","1T","2T","4T","8T","16T"],"range":[26,110],"padding":0},"axis":null},
  "stroke":{"field":"s","type":"nominal","scale":{"domain":["NPW","1T","2T","4T","8T","16T"],"range":["#ff2a2a","#3cc43c","#2a7fff","#c157ff","#12e2e2","#c0582a"]},"legend":null},
  "fill":{"field":"s","type":"nominal","scale":{"domain":["NPW","1T","2T","4T","8T","16T"],"range":["transparent","transparent","transparent","transparent","#12e2e2","transparent"]},"legend":null},
  "shape":{"field":"s","type":"nominal","scale":{"domain":["NPW","1T","2T","4T","8T","16T"],"range":["M-1,0H1M0,-1V1","M-0.8,-0.8L0.8,0.8M-0.8,0.8L0.8,-0.8","M-1,0H1M0,-1V1M-0.7,-0.7L0.7,0.7M-0.7,0.7L0.7,-0.7","square","square","circle"]},"legend":null}}},
{"data":{"values":[{}]},
 "mark":{"type":"rect","fill":"#000000","opacity":0.2,"cornerRadius":4,"xOffset":2,"x2Offset":2,"yOffset":4,"y2Offset":4},
 "encoding":{
  "x":{"datum":1.23,"type":"quantitative","scale":{"domain":[0,100],"range":[103,670],"nice":false},"axis":null},"x2":{"datum":59.08},
  "y":{"datum":813.4,"type":"quantitative","scale":{"domain":[0,1000],"range":[433,15],"nice":false},"axis":null},"y2":{"datum":978.5}}},
{"data":{"values":[{}]},
 "mark":{"type":"rect","cornerRadius":4,"stroke":"#b4b4b4","strokeWidth":1,"fill":{"gradient":"linear","x1":0,"y1":0,"x2":0,"y2":1,"stops":[{"offset":0,"color":"#fbfbfb"},{"offset":0.5,"color":"#ececec"},{"offset":1,"color":"#c9c9c9"}]}},
 "encoding":{
  "x":{"datum":1.23,"type":"quantitative","scale":{"domain":[0,100],"range":[103,670],"nice":false},"axis":null},"x2":{"datum":59.08},
  "y":{"datum":813.4,"type":"quantitative","scale":{"domain":[0,1000],"range":[433,15],"nice":false},"axis":null},"y2":{"datum":978.5}}},
{"data":{"values":[{"t":"Nodes / Worker"}]},
 "mark":{"type":"text","align":"center","baseline":"alphabetic","font":"Liberation Sans","fontSize":42,"color":"#000000"},
 "encoding":{
  "x":{"datum":30.95,"type":"quantitative","scale":{"domain":[0,100],"range":[103,670],"nice":false},"axis":null},
  "y":{"datum":861.2,"type":"quantitative","scale":{"domain":[0,1000],"range":[433,15],"nice":false},"axis":null},
  "text":{"field":"t"}}},
{"data":{"values":[{}]},
 "mark":{"type":"rect","fill":"#ffffff"},
 "encoding":{
  "x":{"datum":-12.68,"type":"quantitative","scale":{"domain":[0,100],"range":[335,1021],"nice":false},"axis":null},"x2":{"datum":112},
  "y":{"datum":-0.5,"type":"quantitative","scale":{"domain":[0,4.5],"range":[613,111],"nice":false},"axis":null},"y2":{"datum":4.607}}},
{"data":{"values":[{"v":0.5},{"v":1},{"v":1.5},{"v":2},{"v":2.5},{"v":3},{"v":3.5},{"v":4}]},
 "mark":{"type":"rule","color":"#b4b4b4","strokeDash":[2,3],"strokeWidth":1},
 "encoding":{
  "y":{"field":"v","type":"quantitative","scale":{"domain":[0,4.5],"range":[613,111],"nice":false},
   "axis":{"orient":"left","offset":-335,"values":[0,0.5,1,1.5,2,2.5,3,3.5,4,4.5],"format":"~g","domain":false,"ticks":false,"grid":false,"labelFlush":false,"labelFont":"Liberation Mono","labelFontSize":15.5,"labelColor":"#555","labelPadding":12,"title":"sec","titleFont":"Liberation Mono","titleFontSize":13,"titleFontWeight":"normal","titleColor":"#777","titleX":-70,"titleY":364,"titleAngle":-90,"titleAlign":"center","titleBaseline":"middle","zindex":1}},
  "x":{"datum":0,"type":"quantitative","scale":{"domain":[0,100],"range":[335,1021],"nice":false},"axis":null},
  "x2":{"datum":100}}},
{"data":{"values":[{"v":20},{"v":40},{"v":60},{"v":80}]},
 "mark":{"type":"rule","color":"#b4b4b4","strokeDash":[2,3],"strokeWidth":1},
 "encoding":{
  "x":{"field":"v","type":"quantitative","scale":{"domain":[0,100],"range":[335,1021],"nice":false},
   "axis":{"orient":"bottom","offset":-36,"values":[0,20,40,60,80,100],"format":"d","domain":false,"ticks":false,"grid":false,"labelFlush":false,"labelFont":"Liberation Mono","labelFontSize":15.5,"labelColor":"#555","labelPadding":10,"title":null,"zindex":1}},
  "y":{"datum":0,"type":"quantitative","scale":{"domain":[0,4.5],"range":[613,111],"nice":false},"axis":null},
  "y2":{"datum":4.5}}},
{"data":{"values":[{}]},
 "mark":{"type":"rect","fillOpacity":0,"stroke":"#5e5e5e","strokeWidth":1.6},
 "encoding":{
  "x":{"datum":0,"type":"quantitative","scale":{"domain":[0,100],"range":[335,1021],"nice":false},"axis":null},"x2":{"datum":100},
  "y":{"datum":0,"type":"quantitative","scale":{"domain":[0,4.5],"range":[613,111],"nice":false},"axis":null},"y2":{"datum":4.5}}},
{"data":{"name":"B"},
 "mark":{"type":"line","strokeWidth":1.8},
 "encoding":{
  "x":{"field":"x","type":"quantitative","scale":{"domain":[0,100],"range":[335,1021],"nice":false},"axis":null},
  "y":{"field":"y","type":"quantitative","scale":{"domain":[0,4.5],"range":[613,111],"nice":false},"axis":null},
  "stroke":{"field":"s","type":"nominal","scale":{"domain":["1T","2T","4T","8T","16T"],"range":["#ff2a2a","#3cc43c","#2a7fff","#c157ff","#12e2e2"]},"legend":null}}},
{"data":{"name":"B"},
 "mark":{"type":"point","strokeWidth":1.5,"size":55,"opacity":1},
 "encoding":{
  "x":{"field":"x","type":"quantitative","scale":{"domain":[0,100],"range":[335,1021],"nice":false},"axis":null},
  "y":{"field":"y","type":"quantitative","scale":{"domain":[0,4.5],"range":[613,111],"nice":false},"axis":null},
  "stroke":{"field":"s","type":"nominal","scale":{"domain":["1T","2T","4T","8T","16T"],"range":["#ff2a2a","#3cc43c","#2a7fff","#c157ff","#12e2e2"]},"legend":null},
  "fill":{"field":"s","type":"nominal","scale":{"domain":["1T","2T","4T","8T","16T"],"range":["transparent","transparent","transparent","transparent","#12e2e2"]},"legend":null},
  "shape":{"field":"s","type":"nominal","scale":{"domain":["1T","2T","4T","8T","16T"],"range":["M-1,0H1M0,-1V1","M-0.8,-0.8L0.8,0.8M-0.8,0.8L0.8,-0.8","M-1,0H1M0,-1V1M-0.7,-0.7L0.7,0.7M-0.7,0.7L0.7,-0.7","square","square"]},"legend":null}}},
{"data":{"values":[{}]},
 "mark":{"type":"rect","fill":"#ffffff"},
 "encoding":{
  "x":{"datum":1.17,"type":"quantitative","scale":{"domain":[0,100],"range":[335,1021],"nice":false},"axis":null},"x2":{"datum":55.54},
  "y":{"datum":3.594,"type":"quantitative","scale":{"domain":[0,4.5],"range":[613,111],"nice":false},"axis":null},"y2":{"datum":4.464}}},
{"data":{"name":"LB"},
 "mark":{"type":"text","align":"right","baseline":"middle","font":"Liberation Mono","fontSize":16.8,"color":"#555"},
 "encoding":{
  "x":{"datum":46.65,"type":"quantitative","scale":{"domain":[0,100],"range":[335,1021],"nice":false},"axis":null},
  "y":{"field":"s","type":"nominal","scale":{"type":"point","domain":["1T","2T","4T","8T","16T"],"range":[127,206],"padding":0},"axis":null},
  "text":{"field":"t"}}},
{"data":{"name":"LB"},
 "mark":{"type":"rule","strokeWidth":1.8},
 "encoding":{
  "x":{"datum":47.81,"type":"quantitative","scale":{"domain":[0,100],"range":[335,1021],"nice":false},"axis":null},"x2":{"datum":54.96},
  "y":{"field":"s","type":"nominal","scale":{"type":"point","domain":["1T","2T","4T","8T","16T"],"range":[127,206],"padding":0},"axis":null},
  "stroke":{"field":"s","type":"nominal","scale":{"domain":["1T","2T","4T","8T","16T"],"range":["#ff2a2a","#3cc43c","#2a7fff","#c157ff","#12e2e2"]},"legend":null}}},
{"data":{"name":"LB"},
 "mark":{"type":"point","strokeWidth":1.5,"size":55,"opacity":1},
 "encoding":{
  "x":{"datum":51.38,"type":"quantitative","scale":{"domain":[0,100],"range":[335,1021],"nice":false},"axis":null},
  "y":{"field":"s","type":"nominal","scale":{"type":"point","domain":["1T","2T","4T","8T","16T"],"range":[127,206],"padding":0},"axis":null},
  "stroke":{"field":"s","type":"nominal","scale":{"domain":["1T","2T","4T","8T","16T"],"range":["#ff2a2a","#3cc43c","#2a7fff","#c157ff","#12e2e2"]},"legend":null},
  "fill":{"field":"s","type":"nominal","scale":{"domain":["1T","2T","4T","8T","16T"],"range":["transparent","transparent","transparent","transparent","#12e2e2"]},"legend":null},
  "shape":{"field":"s","type":"nominal","scale":{"domain":["1T","2T","4T","8T","16T"],"range":["M-1,0H1M0,-1V1","M-0.8,-0.8L0.8,0.8M-0.8,0.8L0.8,-0.8","M-1,0H1M0,-1V1M-0.7,-0.7L0.7,0.7M-0.7,0.7L0.7,-0.7","square","square"]},"legend":null}}},
{"data":{"values":[{}]},
 "mark":{"type":"rect","fill":"#000000","opacity":0.2,"cornerRadius":4,"xOffset":2,"x2Offset":2,"yOffset":4,"y2Offset":4},
 "encoding":{
  "x":{"datum":8.75,"type":"quantitative","scale":{"domain":[0,100],"range":[335,1021],"nice":false},"axis":null},"x2":{"datum":38.05},
  "y":{"datum":3.747,"type":"quantitative","scale":{"domain":[0,4.5],"range":[613,111],"nice":false},"axis":null},"y2":{"datum":4.356}}},
{"data":{"values":[{}]},
 "mark":{"type":"rect","cornerRadius":4,"stroke":"#b4b4b4","strokeWidth":1,"fill":{"gradient":"linear","x1":0,"y1":0,"x2":0,"y2":1,"stops":[{"offset":0,"color":"#fbfbfb"},{"offset":0.5,"color":"#ececec"},{"offset":1,"color":"#c9c9c9"}]}},
 "encoding":{
  "x":{"datum":8.75,"type":"quantitative","scale":{"domain":[0,100],"range":[335,1021],"nice":false},"axis":null},"x2":{"datum":38.05},
  "y":{"datum":3.747,"type":"quantitative","scale":{"domain":[0,4.5],"range":[613,111],"nice":false},"axis":null},"y2":{"datum":4.356}}},
{"data":{"values":[{"t":"Collation"}]},
 "mark":{"type":"text","align":"center","baseline":"alphabetic","font":"Liberation Sans","fontSize":42,"color":"#000000"},
 "encoding":{
  "x":{"datum":23.83,"type":"quantitative","scale":{"domain":[0,100],"range":[335,1021],"nice":false},"axis":null},
  "y":{"datum":3.908,"type":"quantitative","scale":{"domain":[0,4.5],"range":[613,111],"nice":false},"axis":null},
  "text":{"field":"t"}}}
]
}
